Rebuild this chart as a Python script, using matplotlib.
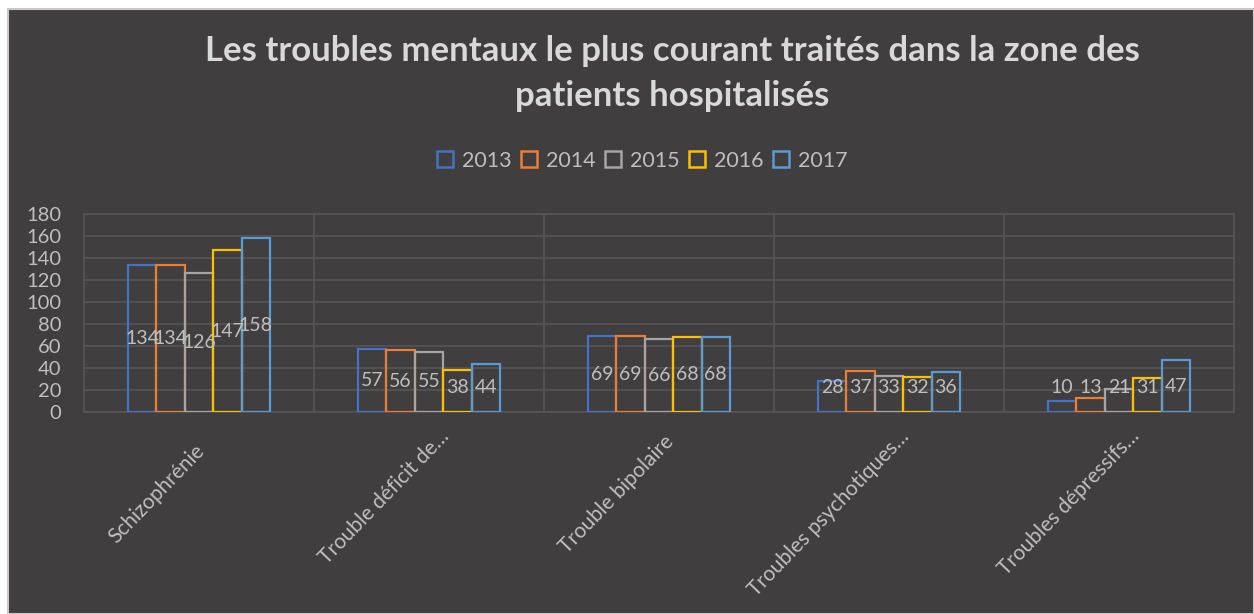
import matplotlib
matplotlib.use("Agg")
import matplotlib.pyplot as plt
import numpy as np
from matplotlib.patches import Rectangle
from matplotlib.lines import Line2D
import matplotlib.transforms as mtransforms

categories = ["Schizophrénie", "Trouble déficit de…", "Trouble bipolaire",
              "Troubles psychotiques…", "Troubles dépressifs…"]
years = ["2013", "2014", "2015", "2016", "2017"]
values = {
    "2013": [134, 57, 69, 28, 10],
    "2014": [134, 56, 69, 37, 13],
    "2015": [126, 55, 66, 33, 21],
    "2016": [147, 38, 68, 32, 31],
    "2017": [158, 44, 68, 36, 47],
}
colors = ["#4472C4", "#ED7D31", "#A5A5A5", "#FFC000", "#5B9BD5"]
yticks = [0, 20, 40, 60, 80, 100, 120, 140, 160, 180]

BG = "#403E3F"
GRID = "#565456"
TXT = "#BFBFBF"
FONT = ["Lato", "DejaVu Sans"]
plt.rcParams['font.family'] = FONT

fig = plt.figure(figsize=(12.54, 6.14), dpi=100)
fig.patch.set_facecolor("white")
fig.patches.append(Rectangle((8/1254, 0), 1 - 8/1254, 1 - 9/614, transform=fig.transFigure,
                             facecolor=BG, edgecolor="#C8C8C8", linewidth=1.5, zorder=-10))

ax = fig.add_axes([84/1254, 1 - 412/614, 1150/1254, 198/614])
ax.set_facecolor(BG)
ax.patch.set_alpha(0)

x = np.arange(len(categories))
bw = 0.1235
for i, (yr, c) in enumerate(zip(years, colors)):
    pos = x + (i - 2) * bw
    ax.bar(pos, values[yr], width=bw, facecolor="none", edgecolor=c, linewidth=1.6, zorder=3)
    for p, v in zip(pos, values[yr]):
        ax.text(p, max(v / 2, 22), str(v), ha="center", va="center", color=TXT,
                fontsize=14, zorder=4)

ax.set_xlim(-0.5, len(categories) - 0.5)
ax.set_ylim(0, 180)
ax.set_yticks(yticks)
ax.yaxis.grid(True, color=GRID, linewidth=1.2, zorder=0)
for b in np.arange(0.5, len(categories) - 0.5, 1):
    ax.axvline(b, color=GRID, linewidth=1.2, zorder=0)
for s in ax.spines.values():
    s.set_color(GRID)
    s.set_linewidth(1.2)
ax.tick_params(axis="both", length=0, colors=TXT, labelsize=14.5)
ax.tick_params(axis="y", pad=16.5)
ax.set_xticks(x)
ax.set_xticklabels([])

# rotated category labels: right end at a common slot, shorter ones centred in the slot
fig.canvas.draw()
renderer = fig.canvas.get_renderer()
ang = np.deg2rad(45)
slot = 170.0  # px
for xi, cat in zip(x, categories):
    t = ax.text(xi, 0, cat, rotation=0, ha="right", va="center", color=TXT, fontsize=15)
    L = t.get_window_extent(renderer).width
    t.remove()
    shift = max(slot - L, 0) / 2.0
    dx = 17 - shift * np.cos(ang)
    dy = -21 - shift * np.sin(ang)
    off = mtransforms.offset_copy(ax.transData, fig=fig, x=dx * 72 / 100, y=dy * 72 / 100,
                                  units="points")
    ax.text(xi, 0, cat, rotation=46, ha="right", va="center", rotation_mode="anchor",
            color=TXT, fontsize=15, transform=off, clip_on=False)

fig.text(0.536, 1 - 51/614, "Les troubles mentaux le plus courant traités dans la zone des",
         ha="center", va="center", color="#D9D9D9", fontsize=25, fontweight="bold")
fig.text(0.536, 1 - 96/614, "patients hospitalisés",
         ha="center", va="center", color="#D9D9D9", fontsize=25, fontweight="bold")

handles = [Line2D([0], [0], marker="s", linestyle="none", markersize=12,
                  markerfacecolor="none", markeredgecolor=c, markeredgewidth=1.8)
           for c in colors]
leg = fig.legend(handles, years, loc="center", bbox_to_anchor=(0.511, 1 - 161/614), ncol=5,
                 frameon=False, fontsize=15.5, handletextpad=0.3, columnspacing=0.3,
                 handlelength=1.0)
for t in leg.get_texts():
    t.set_color(TXT)

fig.savefig("out.png", dpi=100, facecolor=fig.get_facecolor())
